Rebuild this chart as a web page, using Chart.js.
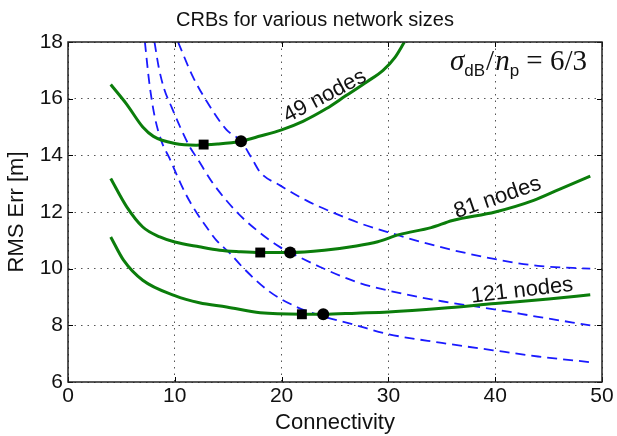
<!DOCTYPE html>
<html>
<head>
<meta charset="utf-8">
<title>CRBs for various network sizes</title>
<script src="https://cdn.jsdelivr.net/npm/chart.js@4.4.1/dist/chart.umd.min.js"></script>
<style>
  html, body { margin: 0; padding: 0; background: #fff; }
  #crb { display: block; }
</style>
</head>
<body>
<canvas id="crb" width="617" height="436"></canvas>
<script>
// axis ticks
const xTicks = [0, 10, 20, 30, 40, 50];
const yTicks = [6, 8, 10, 12, 14, 16, 18];

// solid curves: RMS error vs connectivity
const conn49 = [4, 5.5, 7, 8, 10, 12, 14, 16.2, 18, 20, 22, 24.2, 26, 28, 29.5, 30.6, 31.5];
const rms49 = [16.5, 15.8, 15.0, 14.67, 14.42, 14.36, 14.4, 14.5, 14.68, 14.9, 15.2, 15.65, 16.1, 16.6, 17.0, 17.45, 18];

const conn81 = [4, 5.5, 7, 8.6, 10, 12.3, 14.2, 16, 18, 20.8, 24, 27, 29, 31, 34, 36, 40, 43.6, 46, 48.9];
const rms81 = [13.18, 12.18, 11.47, 11.12, 10.94, 10.77, 10.65, 10.6, 10.57, 10.57, 10.65, 10.8, 10.95, 11.2, 11.45, 11.7, 12.0, 12.41, 12.8, 13.27];

const conn121 = [4, 5.2, 7, 10, 12.3, 14.85, 18, 21.9, 23.9, 27, 30, 35, 40, 45, 48.9];
const rms121 = [11.12, 10.3, 9.59, 9.05, 8.8, 8.65, 8.44, 8.39, 8.39, 8.43, 8.47, 8.6, 8.77, 8.93, 9.08];

// dashed curves
const boundConnA = [7.2, 7.6, 8.1, 8.8, 9.5, 10.2, 11.0, 12.0, 13.0, 13.9, 15.2, 16.4, 18.9, 21.4, 23.6, 27, 29.85, 35, 39.8, 44, 48.9];
const boundRmsA = [18, 16.6, 15.4, 14.45, 13.9, 13.3, 12.65, 12.0, 11.45, 11.0, 10.53, 10.03, 9.18, 8.65, 8.35, 8.0, 7.7, 7.38, 7.12, 6.9, 6.7];

const boundConnB = [8.1, 8.5, 9.0, 9.7, 10.5, 11.4, 12.0, 13.6, 15.8, 17.7, 19.85, 20.8, 23.6, 27, 29.85, 35, 40.5, 44, 48.9];
const boundRmsB = [18, 17.1, 16.35, 15.7, 15.0, 14.3, 13.95, 13.0, 12.0, 11.35, 10.76, 10.57, 10.06, 9.53, 9.24, 8.85, 8.53, 8.3, 8.0];

const boundConnC = [10.3, 11.7, 13.0, 14.85, 16.2, 17.2, 18.0, 19.85, 22.35, 25, 27.35, 29.85, 34.8, 40.5, 44, 48.9];
const boundRmsC = [18, 16.77, 15.9, 14.9, 14.5, 13.9, 13.4, 12.94, 12.4, 11.95, 11.6, 11.3, 10.77, 10.3, 10.1, 10.0];

// marked optimum points
const squareConn = [12.7, 18.0, 21.9];
const squareRms = [14.38, 10.57, 8.39];
const circleConn = [16.2, 20.8, 23.9];
const circleRms = [14.5, 10.57, 8.39];

const curveNames = ['49 nodes', '81 nodes', '121 nodes'];

const toPoints = (xs, ys) => xs.map((x, i) => ({ x: x, y: ys[i] }));

const GREEN = '#0b7d0b';
const BLUE = '#1a1aff';
const FONT = "'Liberation Sans', Arial, sans-serif";

function solid(xs, ys) {
  return { data: toPoints(xs, ys), showLine: true, borderColor: GREEN, borderWidth: 3,
    pointRadius: 0, cubicInterpolationMode: 'monotone', order: 1 };
}
function dashed(xs, ys) {
  return { data: toPoints(xs, ys), showLine: true, borderColor: BLUE, borderWidth: 1.8,
    borderDash: [10, 6], pointRadius: 0, cubicInterpolationMode: 'monotone', order: 2 };
}

// label anchors (data coords of baseline start) and angles
const labelSpots = [
  { x: 20.57, y: 15.15, rot: -28 },
  { x: 36.4, y: 11.78, rot: -19 },
  { x: 37.8, y: 8.8, rot: -6.7 }
];

const decor = {
  id: 'decor',
  beforeDraw(chart) {
    const ctx = chart.ctx;
    ctx.save();
    ctx.fillStyle = '#fff';
    ctx.fillRect(0, 0, chart.width, chart.height);
    ctx.restore();
  },
  afterDraw(chart) {
    const { ctx, chartArea: a, scales } = chart;
    const sx = scales.x, sy = scales.y;
    ctx.save();

    // inward ticks
    ctx.strokeStyle = '#000';
    ctx.lineWidth = 1;
    ctx.beginPath();
    xTicks.forEach(v => {
      const px = Math.round(sx.getPixelForValue(v)) + 0.5;
      ctx.moveTo(px, a.bottom); ctx.lineTo(px, a.bottom - 5);
      ctx.moveTo(px, a.top); ctx.lineTo(px, a.top + 5);
    });
    yTicks.forEach(v => {
      const py = Math.round(sy.getPixelForValue(v)) + 0.5;
      ctx.moveTo(a.left, py); ctx.lineTo(a.left + 5, py);
      ctx.moveTo(a.right, py); ctx.lineTo(a.right - 5, py);
    });
    ctx.stroke();

    // axes box
    ctx.strokeStyle = '#222';
    ctx.lineWidth = 1.5;
    ctx.strokeRect(a.left, a.top, a.right - a.left, a.bottom - a.top);

    // title
    ctx.fillStyle = '#111';
    ctx.font = '20px ' + FONT;
    ctx.textAlign = 'center';
    ctx.textBaseline = 'alphabetic';
    ctx.fillText('CRBs for various network sizes', 315, 26);

    // curve labels
    ctx.textAlign = 'left';
    ctx.font = '22px ' + FONT;
    labelSpots.forEach((s, i) => {
      ctx.save();
      ctx.translate(sx.getPixelForValue(s.x), sy.getPixelForValue(s.y));
      ctx.rotate(s.rot * Math.PI / 180);
      ctx.fillText(curveNames[i], 0, 0);
      ctx.restore();
    });

    // sigma_dB / n_p = 6/3
    const serif = "'Liberation Serif', 'Times New Roman', serif";
    const parts = [
      { t: '\u03c3', f: 'italic 29px ' + serif, dy: 0 },
      { t: 'dB', f: '17px ' + FONT, dy: 6 },
      { t: '/', f: '29px ' + serif, dy: 0, pad: 1 },
      { t: 'n', f: 'italic 29px ' + serif, dy: 0 },
      { t: 'p', f: '17px ' + FONT, dy: 6 },
      { t: ' = ', f: '29px ' + serif, dy: 0 },
      { t: '6/3', f: '29px ' + serif, dy: 0 }
    ];
    let cx = 450;
    const base = 70;
    parts.forEach(p => {
      ctx.font = p.f;
      cx += p.pad || 0;
      ctx.fillText(p.t, cx, base + p.dy);
      cx += ctx.measureText(p.t).width + (p.pad || 0);
    });

    ctx.restore();
  }
};

new Chart(document.getElementById('crb'), {
  type: 'scatter',
  data: {
    datasets: [
      { data: toPoints(squareConn, squareRms), pointStyle: 'rect', pointRadius: 7,
        backgroundColor: '#000', borderColor: '#000', borderWidth: 0, order: 0 },
      { data: toPoints(circleConn, circleRms), pointStyle: 'circle', pointRadius: 6,
        backgroundColor: '#000', borderColor: '#000', borderWidth: 0, order: 0 },
      solid(conn49, rms49),
      solid(conn81, rms81),
      solid(conn121, rms121),
      dashed(boundConnA, boundRmsA),
      dashed(boundConnB, boundRmsB),
      dashed(boundConnC, boundRmsC)
    ]
  },
  options: {
    responsive: false,
    animation: false,
    devicePixelRatio: 1,
    layout: { padding: { top: 42, right: 15, bottom: 0, left: 0 } },
    plugins: { legend: { display: false }, tooltip: { enabled: false }, title: { display: false } },
    scales: {
      x: {
        type: 'linear', min: 0, max: 50,
        afterBuildTicks: s => { s.ticks = xTicks.map(v => ({ value: v })); },
        afterFit: s => { s.height = 54; },
        ticks: { color: '#111', font: { family: FONT, size: 21 }, padding: 2, maxRotation: 0 },
        grid: { color: '#555', lineWidth: 1, drawTicks: false },
        border: { display: false, dash: [1.5, 5] },
        title: { display: true, text: 'Connectivity', color: '#111',
          font: { family: FONT, size: 22 }, padding: { top: 0, bottom: 0 } }
      },
      y: {
        type: 'linear', min: 6, max: 18,
        afterBuildTicks: s => { s.ticks = yTicks.map(v => ({ value: v })); },
        afterFit: s => { s.width = 68; },
        ticks: { color: '#111', font: { family: FONT, size: 21 }, padding: 5 },
        grid: { color: '#555', lineWidth: 1, drawTicks: false },
        border: { display: false, dash: [1.5, 5] },
        title: { display: true, text: 'RMS Err [m]', color: '#111',
          font: { family: FONT, size: 22 }, padding: { top: 4, bottom: 0 } }
      }
    }
  },
  plugins: [decor]
});
</script>
</body>
</html>
